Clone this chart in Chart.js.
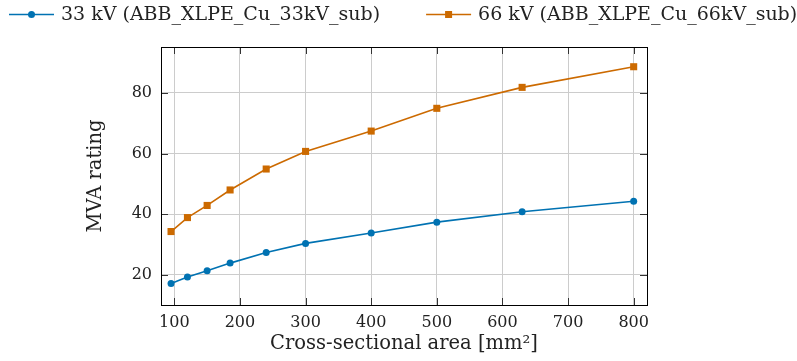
<!DOCTYPE html>
<html>
<head>
<meta charset="utf-8">
<script src="https://cdn.jsdelivr.net/npm/chart.js@4.4.1/dist/chart.umd.min.js"></script>
<style>
  html, body { margin: 0; padding: 0; background: #fff; }
  #wrap { width: 797px; height: 361px; }
</style>
</head>
<body>
<div id="wrap"><canvas id="myChart" width="797" height="361"></canvas></div>
<script>
// Cross-sectional areas (mm^2)
const areas = [95, 120, 150, 185, 240, 300, 400, 500, 630, 800];
// MVA ratings
const mva33 = [17.2, 19.3, 21.4, 23.9, 27.4, 30.4, 33.8, 37.4, 40.8, 44.3];
const mva66 = [34.3, 38.9, 42.9, 48.0, 54.9, 60.7, 67.4, 74.9, 81.8, 88.6];
// Tick labels
const xTicks = [100, 200, 300, 400, 500, 600, 700, 800];
const yTicks = [20, 40, 60, 80];

const blue = '#0072b2';
const orange = '#cc6a00';
const font = "'DejaVu Serif', serif";

function pairs(xs, ys) {
    return xs.map((x, i) => ({ x: x, y: ys[i] }));
}

// legend drawn across the top: line with marker, then label
const legendPlugin = {
    id: 'topLegend',
    afterDraw(chart) {
        const ctx = chart.ctx;
        const y = 14.5;
        let x = 9;
        ctx.save();
        ctx.font = '19px ' + font;
        ctx.textBaseline = 'middle';
        chart.data.datasets.forEach(d => {
            ctx.strokeStyle = d.borderColor;
            ctx.fillStyle = d.borderColor;
            ctx.lineWidth = 1.6;
            ctx.beginPath(); ctx.moveTo(x, y); ctx.lineTo(x + 45, y); ctx.stroke();
            if (d.pointStyle === 'circle') {
                ctx.beginPath(); ctx.arc(x + 22.5, y, 3.5, 0, Math.PI * 2); ctx.fill();
            } else {
                ctx.fillRect(x + 19, y - 3.5, 7, 7);
            }
            ctx.fillStyle = '#222';
            ctx.fillText(d.label, x + 52, y + 1);
            x += 52 + ctx.measureText(d.label).width + 46;
        });
        ctx.restore();
    }
};

// frame and inward ticks on all four sides
const framePlugin = {
    id: 'frame',
    afterDraw(chart) {
        const { ctx, chartArea: a, scales } = chart;
        const len = 7;
        ctx.save();
        ctx.strokeStyle = '#333';
        ctx.lineWidth = 1;
        ctx.beginPath();
        scales.x.ticks.forEach(t => {
            const px = Math.round(scales.x.getPixelForValue(t.value)) + 0.5;
            ctx.moveTo(px, a.bottom); ctx.lineTo(px, a.bottom - len);
            ctx.moveTo(px, a.top); ctx.lineTo(px, a.top + len);
        });
        scales.y.ticks.forEach(t => {
            const py = Math.round(scales.y.getPixelForValue(t.value)) + 0.5;
            ctx.moveTo(a.left, py); ctx.lineTo(a.left + len, py);
            ctx.moveTo(a.right, py); ctx.lineTo(a.right - len, py);
        });
        ctx.stroke();
        ctx.strokeStyle = '#000';
        ctx.strokeRect(Math.round(a.left) + 0.5, Math.round(a.top) + 0.5,
            Math.round(a.right - a.left), Math.round(a.bottom - a.top));
        ctx.restore();
    }
};

const ctx = document.getElementById('myChart').getContext('2d');

const myChart = new Chart(ctx, {
    type: 'line',
    data: {
        datasets: [{
            label: '33 kV (ABB_XLPE_Cu_33kV_sub)',
            data: pairs(areas, mva33),
            borderColor: blue,
            backgroundColor: blue,
            borderWidth: 1.6,
            pointStyle: 'circle',
            pointRadius: 3.5,
            pointBorderWidth: 0
        }, {
            label: '66 kV (ABB_XLPE_Cu_66kV_sub)',
            data: pairs(areas, mva66),
            borderColor: orange,
            backgroundColor: orange,
            borderWidth: 1.6,
            pointStyle: 'rect',
            pointRadius: 5,
            pointBorderWidth: 0
        }]
    },
    options: {
        responsive: false,
        animation: false,
        layout: { padding: { left: 0, right: 150, top: 47, bottom: 0 } },
        plugins: {
            tooltip: { enabled: false },
            legend: { display: false }
        },
        scales: {
            x: {
                type: 'linear',
                min: 79.7,
                max: 820.3,
                afterBuildTicks(s) { s.ticks = xTicks.map(v => ({ value: v })); },
                afterFit(s) { s.height = 56; },
                grid: { color: '#cccccc', drawTicks: false },
                border: { display: false },
                ticks: { color: '#222', padding: 8, font: { family: font, size: 16 } },
                title: {
                    display: true,
                    text: 'Cross-sectional area [mm²]',
                    color: '#222',
                    padding: { top: 0, bottom: 5 },
                    font: { family: font, size: 19.5 }
                }
            },
            y: {
                min: 10.1,
                max: 95.1,
                afterBuildTicks(s) { s.ticks = yTicks.map(v => ({ value: v })); },
                afterFit(s) { s.width = 161; },
                grid: { color: '#cccccc', drawTicks: false },
                border: { display: false },
                ticks: { color: '#222', padding: 9, font: { family: font, size: 16 } },
                title: {
                    display: true,
                    text: 'MVA rating',
                    color: '#222',
                    padding: { top: 84, bottom: 0 },
                    font: { family: font, size: 19.5 }
                }
            }
        }
    },
    plugins: [framePlugin, legendPlugin]
});
</script>
</body>
</html>
